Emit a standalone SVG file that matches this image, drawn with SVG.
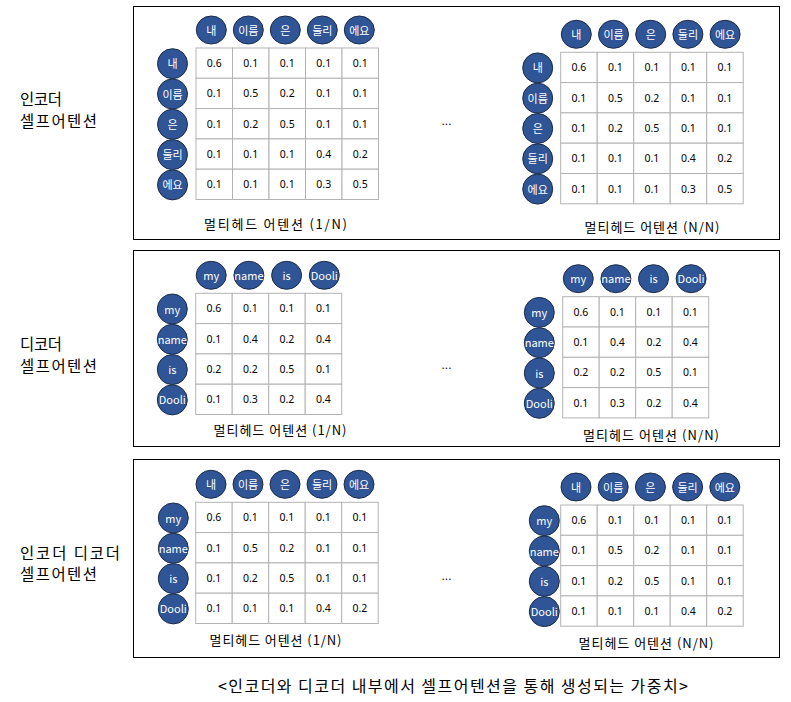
<svg xmlns="http://www.w3.org/2000/svg" width="791" height="702" viewBox="0 0 791 702">
<style>
.bg{fill:#ffffff}
.panel{fill:none;stroke:#000;stroke-width:1}
.tok{fill:#2F5597;stroke:#1c2b48;stroke-width:1}
.tt{fill:#fff;font-family:"Noto Sans CJK KR","Noto Sans",sans-serif;font-size:11px;text-anchor:middle;dominant-baseline:central}
.cell{fill:#fff;stroke:#b3b3b3;stroke-width:1}
.num{fill:#000;font-family:"Noto Sans","Noto Sans CJK KR",sans-serif;font-size:10.5px;text-anchor:middle;dominant-baseline:central}
.lbl{fill:#000;font-family:"Noto Sans CJK KR",sans-serif;font-size:13px;text-anchor:middle;dominant-baseline:central}
.side{fill:#000;font-family:"Noto Sans CJK KR",sans-serif;font-size:15.4px;dominant-baseline:central}
.cap{fill:#000;font-family:"Noto Sans CJK KR",sans-serif;font-size:16px;text-anchor:middle;dominant-baseline:central}
.dots{fill:#000;font-family:"Liberation Sans",sans-serif;font-size:12px;text-anchor:middle}
</style>
<rect class="bg" x="0" y="0" width="791" height="702"/>

<!-- Panel 1 -->
<g id="panel-encoder">
<rect class="panel" x="133.5" y="6.5" width="646" height="233"/>
<text class="side" x="20" y="98" textLength="42" lengthAdjust="spacing">인코더</text>
<text class="side" x="20" y="120" textLength="77" lengthAdjust="spacing">셀프어텐션</text>
<text class="dots" x="446.5" y="125">...</text>
</g>

<g id="enc-matrix-1">
<g id="enc1-cols">
<ellipse class="tok" cx="211.3" cy="30" rx="15" ry="14"/><text class="tt" x="211.3" y="29.5">내</text>
<ellipse class="tok" cx="248.3" cy="30" rx="15" ry="14"/><text class="tt" x="248.3" y="29.5">이름</text>
<ellipse class="tok" cx="285.3" cy="30" rx="15" ry="14"/><text class="tt" x="285.3" y="29.5">은</text>
<ellipse class="tok" cx="322.3" cy="30" rx="15" ry="14"/><text class="tt" x="322.3" y="29.5">둘리</text>
<ellipse class="tok" cx="359.3" cy="30" rx="15" ry="14"/><text class="tt" x="359.3" y="29.5">에요</text>
</g>
<g id="enc1-rows">
<circle class="tok" cx="172.5" cy="63.7" r="15"/><text class="tt" x="172.5" y="63.2">내</text>
<circle class="tok" cx="172.5" cy="94" r="15"/><text class="tt" x="172.5" y="93.5">이름</text>
<circle class="tok" cx="172.5" cy="124.3" r="15"/><text class="tt" x="172.5" y="123.8">은</text>
<circle class="tok" cx="172.5" cy="154.6" r="15"/><text class="tt" x="172.5" y="154.1">둘리</text>
<circle class="tok" cx="172.5" cy="184.9" r="15"/><text class="tt" x="172.5" y="184.4">에요</text>
</g>
<g id="enc1-grid">
<rect class="cell" x="196" y="48" width="36.5" height="30.3"/><rect class="cell" x="232.5" y="48" width="36.5" height="30.3"/><rect class="cell" x="269" y="48" width="36.5" height="30.3"/><rect class="cell" x="305.5" y="48" width="36.5" height="30.3"/><rect class="cell" x="342" y="48" width="36.5" height="30.3"/>
<rect class="cell" x="196" y="78.3" width="36.5" height="30.3"/><rect class="cell" x="232.5" y="78.3" width="36.5" height="30.3"/><rect class="cell" x="269" y="78.3" width="36.5" height="30.3"/><rect class="cell" x="305.5" y="78.3" width="36.5" height="30.3"/><rect class="cell" x="342" y="78.3" width="36.5" height="30.3"/>
<rect class="cell" x="196" y="108.6" width="36.5" height="30.3"/><rect class="cell" x="232.5" y="108.6" width="36.5" height="30.3"/><rect class="cell" x="269" y="108.6" width="36.5" height="30.3"/><rect class="cell" x="305.5" y="108.6" width="36.5" height="30.3"/><rect class="cell" x="342" y="108.6" width="36.5" height="30.3"/>
<rect class="cell" x="196" y="138.9" width="36.5" height="30.3"/><rect class="cell" x="232.5" y="138.9" width="36.5" height="30.3"/><rect class="cell" x="269" y="138.9" width="36.5" height="30.3"/><rect class="cell" x="305.5" y="138.9" width="36.5" height="30.3"/><rect class="cell" x="342" y="138.9" width="36.5" height="30.3"/>
<rect class="cell" x="196" y="169.2" width="36.5" height="30.3"/><rect class="cell" x="232.5" y="169.2" width="36.5" height="30.3"/><rect class="cell" x="269" y="169.2" width="36.5" height="30.3"/><rect class="cell" x="305.5" y="169.2" width="36.5" height="30.3"/><rect class="cell" x="342" y="169.2" width="36.5" height="30.3"/>
</g>
<g id="enc1-vals">
<text class="num" x="214.25" y="63.15">0.6</text><text class="num" x="250.75" y="63.15">0.1</text><text class="num" x="287.25" y="63.15">0.1</text><text class="num" x="323.75" y="63.15">0.1</text><text class="num" x="360.25" y="63.15">0.1</text>
<text class="num" x="214.25" y="93.45">0.1</text><text class="num" x="250.75" y="93.45">0.5</text><text class="num" x="287.25" y="93.45">0.2</text><text class="num" x="323.75" y="93.45">0.1</text><text class="num" x="360.25" y="93.45">0.1</text>
<text class="num" x="214.25" y="123.75">0.1</text><text class="num" x="250.75" y="123.75">0.2</text><text class="num" x="287.25" y="123.75">0.5</text><text class="num" x="323.75" y="123.75">0.1</text><text class="num" x="360.25" y="123.75">0.1</text>
<text class="num" x="214.25" y="154.05">0.1</text><text class="num" x="250.75" y="154.05">0.1</text><text class="num" x="287.25" y="154.05">0.1</text><text class="num" x="323.75" y="154.05">0.4</text><text class="num" x="360.25" y="154.05">0.2</text>
<text class="num" x="214.25" y="184.35">0.1</text><text class="num" x="250.75" y="184.35">0.1</text><text class="num" x="287.25" y="184.35">0.1</text><text class="num" x="323.75" y="184.35">0.3</text><text class="num" x="360.25" y="184.35">0.5</text>
</g>
<text class="lbl" x="275.5" y="223.5" textLength="143" lengthAdjust="spacing">멀티헤드 어텐션 (1/N)</text>
</g>

<g id="enc-matrix-N">
<g id="encN-cols">
<ellipse class="tok" cx="576.3" cy="34.3" rx="15" ry="14"/><text class="tt" x="576.3" y="33.8">내</text>
<ellipse class="tok" cx="613.5" cy="34.3" rx="15" ry="14"/><text class="tt" x="613.5" y="33.8">이름</text>
<ellipse class="tok" cx="650.7" cy="34.3" rx="15" ry="14"/><text class="tt" x="650.7" y="33.8">은</text>
<ellipse class="tok" cx="687.9" cy="34.3" rx="15" ry="14"/><text class="tt" x="687.9" y="33.8">둘리</text>
<ellipse class="tok" cx="725.1" cy="34.3" rx="15" ry="14"/><text class="tt" x="725.1" y="33.8">에요</text>
</g>
<g id="encN-rows">
<circle class="tok" cx="537.7" cy="67.9" r="15"/><text class="tt" x="537.7" y="67.4">내</text>
<circle class="tok" cx="537.7" cy="98.2" r="15"/><text class="tt" x="537.7" y="97.7">이름</text>
<circle class="tok" cx="537.7" cy="128.5" r="15"/><text class="tt" x="537.7" y="128">은</text>
<circle class="tok" cx="537.7" cy="158.8" r="15"/><text class="tt" x="537.7" y="158.3">둘리</text>
<circle class="tok" cx="537.7" cy="189.1" r="15"/><text class="tt" x="537.7" y="188.6">에요</text>
</g>
<g id="encN-grid">
<rect class="cell" x="560.7" y="52.3" width="36.5" height="30.3"/><rect class="cell" x="597.2" y="52.3" width="36.5" height="30.3"/><rect class="cell" x="633.7" y="52.3" width="36.5" height="30.3"/><rect class="cell" x="670.2" y="52.3" width="36.5" height="30.3"/><rect class="cell" x="706.7" y="52.3" width="36.5" height="30.3"/>
<rect class="cell" x="560.7" y="82.6" width="36.5" height="30.3"/><rect class="cell" x="597.2" y="82.6" width="36.5" height="30.3"/><rect class="cell" x="633.7" y="82.6" width="36.5" height="30.3"/><rect class="cell" x="670.2" y="82.6" width="36.5" height="30.3"/><rect class="cell" x="706.7" y="82.6" width="36.5" height="30.3"/>
<rect class="cell" x="560.7" y="112.9" width="36.5" height="30.3"/><rect class="cell" x="597.2" y="112.9" width="36.5" height="30.3"/><rect class="cell" x="633.7" y="112.9" width="36.5" height="30.3"/><rect class="cell" x="670.2" y="112.9" width="36.5" height="30.3"/><rect class="cell" x="706.7" y="112.9" width="36.5" height="30.3"/>
<rect class="cell" x="560.7" y="143.2" width="36.5" height="30.3"/><rect class="cell" x="597.2" y="143.2" width="36.5" height="30.3"/><rect class="cell" x="633.7" y="143.2" width="36.5" height="30.3"/><rect class="cell" x="670.2" y="143.2" width="36.5" height="30.3"/><rect class="cell" x="706.7" y="143.2" width="36.5" height="30.3"/>
<rect class="cell" x="560.7" y="173.5" width="36.5" height="30.3"/><rect class="cell" x="597.2" y="173.5" width="36.5" height="30.3"/><rect class="cell" x="633.7" y="173.5" width="36.5" height="30.3"/><rect class="cell" x="670.2" y="173.5" width="36.5" height="30.3"/><rect class="cell" x="706.7" y="173.5" width="36.5" height="30.3"/>
</g>
<g id="encN-vals">
<text class="num" x="578.95" y="67.45">0.6</text><text class="num" x="615.45" y="67.45">0.1</text><text class="num" x="651.95" y="67.45">0.1</text><text class="num" x="688.45" y="67.45">0.1</text><text class="num" x="724.95" y="67.45">0.1</text>
<text class="num" x="578.95" y="97.75">0.1</text><text class="num" x="615.45" y="97.75">0.5</text><text class="num" x="651.95" y="97.75">0.2</text><text class="num" x="688.45" y="97.75">0.1</text><text class="num" x="724.95" y="97.75">0.1</text>
<text class="num" x="578.95" y="128.05">0.1</text><text class="num" x="615.45" y="128.05">0.2</text><text class="num" x="651.95" y="128.05">0.5</text><text class="num" x="688.45" y="128.05">0.1</text><text class="num" x="724.95" y="128.05">0.1</text>
<text class="num" x="578.95" y="158.35">0.1</text><text class="num" x="615.45" y="158.35">0.1</text><text class="num" x="651.95" y="158.35">0.1</text><text class="num" x="688.45" y="158.35">0.4</text><text class="num" x="724.95" y="158.35">0.2</text>
<text class="num" x="578.95" y="188.65">0.1</text><text class="num" x="615.45" y="188.65">0.1</text><text class="num" x="651.95" y="188.65">0.1</text><text class="num" x="688.45" y="188.65">0.3</text><text class="num" x="724.95" y="188.65">0.5</text>
</g>
<text class="lbl" x="652" y="226.5" textLength="135" lengthAdjust="spacing">멀티헤드 어텐션 (N/N)</text>
</g>

<!-- Panel 2 -->
<g id="panel-decoder">
<rect class="panel" x="133.5" y="250.5" width="646" height="196"/>
<text class="side" x="20" y="343" textLength="42" lengthAdjust="spacing">디코더</text>
<text class="side" x="20" y="365" textLength="77" lengthAdjust="spacing">셀프어텐션</text>
<text class="dots" x="446.5" y="369">...</text>
</g>

<g id="dec-matrix-1">
<g id="dec1-cols">
<ellipse class="tok" cx="211.2" cy="275.3" rx="15" ry="14"/><text class="tt" x="211.2" y="274.8">my</text>
<ellipse class="tok" cx="248.9" cy="275.3" rx="15" ry="14"/><text class="tt" x="248.9" y="274.8">name</text>
<ellipse class="tok" cx="286.6" cy="275.3" rx="15" ry="14"/><text class="tt" x="286.6" y="274.8">is</text>
<ellipse class="tok" cx="324.3" cy="275.3" rx="15" ry="14"/><text class="tt" x="324.3" y="274.8">Dooli</text>
</g>
<g id="dec1-rows">
<circle class="tok" cx="172.3" cy="309" r="15"/><text class="tt" x="172.3" y="308.5">my</text>
<circle class="tok" cx="172.3" cy="339.3" r="15"/><text class="tt" x="172.3" y="338.8">name</text>
<circle class="tok" cx="172.3" cy="369.6" r="15"/><text class="tt" x="172.3" y="369.1">is</text>
<circle class="tok" cx="172.3" cy="399.9" r="15"/><text class="tt" x="172.3" y="399.4">Dooli</text>
</g>
<g id="dec1-grid">
<rect class="cell" x="195.7" y="293.3" width="36.5" height="30.3"/><rect class="cell" x="232.2" y="293.3" width="36.5" height="30.3"/><rect class="cell" x="268.7" y="293.3" width="36.5" height="30.3"/><rect class="cell" x="305.2" y="293.3" width="36.5" height="30.3"/>
<rect class="cell" x="195.7" y="323.6" width="36.5" height="30.3"/><rect class="cell" x="232.2" y="323.6" width="36.5" height="30.3"/><rect class="cell" x="268.7" y="323.6" width="36.5" height="30.3"/><rect class="cell" x="305.2" y="323.6" width="36.5" height="30.3"/>
<rect class="cell" x="195.7" y="353.9" width="36.5" height="30.3"/><rect class="cell" x="232.2" y="353.9" width="36.5" height="30.3"/><rect class="cell" x="268.7" y="353.9" width="36.5" height="30.3"/><rect class="cell" x="305.2" y="353.9" width="36.5" height="30.3"/>
<rect class="cell" x="195.7" y="384.2" width="36.5" height="30.3"/><rect class="cell" x="232.2" y="384.2" width="36.5" height="30.3"/><rect class="cell" x="268.7" y="384.2" width="36.5" height="30.3"/><rect class="cell" x="305.2" y="384.2" width="36.5" height="30.3"/>
</g>
<g id="dec1-vals">
<text class="num" x="213.95" y="308.45">0.6</text><text class="num" x="250.45" y="308.45">0.1</text><text class="num" x="286.95" y="308.45">0.1</text><text class="num" x="323.45" y="308.45">0.1</text>
<text class="num" x="213.95" y="338.75">0.1</text><text class="num" x="250.45" y="338.75">0.4</text><text class="num" x="286.95" y="338.75">0.2</text><text class="num" x="323.45" y="338.75">0.4</text>
<text class="num" x="213.95" y="369.05">0.2</text><text class="num" x="250.45" y="369.05">0.2</text><text class="num" x="286.95" y="369.05">0.5</text><text class="num" x="323.45" y="369.05">0.1</text>
<text class="num" x="213.95" y="399.35">0.1</text><text class="num" x="250.45" y="399.35">0.3</text><text class="num" x="286.95" y="399.35">0.2</text><text class="num" x="323.45" y="399.35">0.4</text>
</g>
<text class="lbl" x="280" y="429.5" textLength="133" lengthAdjust="spacing">멀티헤드 어텐션 (1/N)</text>
</g>

<g id="dec-matrix-N">
<g id="decN-cols">
<ellipse class="tok" cx="578.3" cy="278.7" rx="15" ry="14"/><text class="tt" x="578.3" y="278.2">my</text>
<ellipse class="tok" cx="615.9" cy="278.7" rx="15" ry="14"/><text class="tt" x="615.9" y="278.2">name</text>
<ellipse class="tok" cx="653.5" cy="278.7" rx="15" ry="14"/><text class="tt" x="653.5" y="278.2">is</text>
<ellipse class="tok" cx="691.1" cy="278.7" rx="15" ry="14"/><text class="tt" x="691.1" y="278.2">Dooli</text>
</g>
<g id="decN-rows">
<circle class="tok" cx="539.3" cy="312.4" r="15"/><text class="tt" x="539.3" y="311.9">my</text>
<circle class="tok" cx="539.3" cy="342.7" r="15"/><text class="tt" x="539.3" y="342.2">name</text>
<circle class="tok" cx="539.3" cy="373" r="15"/><text class="tt" x="539.3" y="372.5">is</text>
<circle class="tok" cx="539.3" cy="403.3" r="15"/><text class="tt" x="539.3" y="402.8">Dooli</text>
</g>
<g id="decN-grid">
<rect class="cell" x="562.7" y="296.7" width="36.5" height="30.3"/><rect class="cell" x="599.2" y="296.7" width="36.5" height="30.3"/><rect class="cell" x="635.7" y="296.7" width="36.5" height="30.3"/><rect class="cell" x="672.2" y="296.7" width="36.5" height="30.3"/>
<rect class="cell" x="562.7" y="327" width="36.5" height="30.3"/><rect class="cell" x="599.2" y="327" width="36.5" height="30.3"/><rect class="cell" x="635.7" y="327" width="36.5" height="30.3"/><rect class="cell" x="672.2" y="327" width="36.5" height="30.3"/>
<rect class="cell" x="562.7" y="357.3" width="36.5" height="30.3"/><rect class="cell" x="599.2" y="357.3" width="36.5" height="30.3"/><rect class="cell" x="635.7" y="357.3" width="36.5" height="30.3"/><rect class="cell" x="672.2" y="357.3" width="36.5" height="30.3"/>
<rect class="cell" x="562.7" y="387.6" width="36.5" height="30.3"/><rect class="cell" x="599.2" y="387.6" width="36.5" height="30.3"/><rect class="cell" x="635.7" y="387.6" width="36.5" height="30.3"/><rect class="cell" x="672.2" y="387.6" width="36.5" height="30.3"/>
</g>
<g id="decN-vals">
<text class="num" x="580.95" y="311.85">0.6</text><text class="num" x="617.45" y="311.85">0.1</text><text class="num" x="653.95" y="311.85">0.1</text><text class="num" x="690.45" y="311.85">0.1</text>
<text class="num" x="580.95" y="342.15">0.1</text><text class="num" x="617.45" y="342.15">0.4</text><text class="num" x="653.95" y="342.15">0.2</text><text class="num" x="690.45" y="342.15">0.4</text>
<text class="num" x="580.95" y="372.45">0.2</text><text class="num" x="617.45" y="372.45">0.2</text><text class="num" x="653.95" y="372.45">0.5</text><text class="num" x="690.45" y="372.45">0.1</text>
<text class="num" x="580.95" y="402.75">0.1</text><text class="num" x="617.45" y="402.75">0.3</text><text class="num" x="653.95" y="402.75">0.2</text><text class="num" x="690.45" y="402.75">0.4</text>
</g>
<text class="lbl" x="651" y="434.5" textLength="136" lengthAdjust="spacing">멀티헤드 어텐션 (N/N)</text>
</g>

<!-- Panel 3 -->
<g id="panel-encdec">
<rect class="panel" x="133.5" y="459.5" width="646" height="198"/>
<text class="side" x="20" y="552" textLength="100" lengthAdjust="spacing">인코더 디코더</text>
<text class="side" x="20" y="573" textLength="77" lengthAdjust="spacing">셀프어텐션</text>
<text class="dots" x="446.5" y="580">...</text>
</g>

<g id="ed-matrix-1">
<g id="ed1-cols">
<ellipse class="tok" cx="211" cy="484.3" rx="15" ry="14"/><text class="tt" x="211" y="483.8">내</text>
<ellipse class="tok" cx="248" cy="484.3" rx="15" ry="14"/><text class="tt" x="248" y="483.8">이름</text>
<ellipse class="tok" cx="285" cy="484.3" rx="15" ry="14"/><text class="tt" x="285" y="483.8">은</text>
<ellipse class="tok" cx="322" cy="484.3" rx="15" ry="14"/><text class="tt" x="322" y="483.8">둘리</text>
<ellipse class="tok" cx="359" cy="484.3" rx="15" ry="14"/><text class="tt" x="359" y="483.8">에요</text>
</g>
<g id="ed1-rows">
<circle class="tok" cx="173.3" cy="518" r="15"/><text class="tt" x="173.3" y="517.5">my</text>
<circle class="tok" cx="173.3" cy="548.3" r="15"/><text class="tt" x="173.3" y="547.8">name</text>
<circle class="tok" cx="173.3" cy="578.6" r="15"/><text class="tt" x="173.3" y="578.1">is</text>
<circle class="tok" cx="173.3" cy="608.9" r="15"/><text class="tt" x="173.3" y="608.4">Dooli</text>
</g>
<g id="ed1-grid">
<rect class="cell" x="195.7" y="502.3" width="36.5" height="30.3"/><rect class="cell" x="232.2" y="502.3" width="36.5" height="30.3"/><rect class="cell" x="268.7" y="502.3" width="36.5" height="30.3"/><rect class="cell" x="305.2" y="502.3" width="36.5" height="30.3"/><rect class="cell" x="341.7" y="502.3" width="36.5" height="30.3"/>
<rect class="cell" x="195.7" y="532.6" width="36.5" height="30.3"/><rect class="cell" x="232.2" y="532.6" width="36.5" height="30.3"/><rect class="cell" x="268.7" y="532.6" width="36.5" height="30.3"/><rect class="cell" x="305.2" y="532.6" width="36.5" height="30.3"/><rect class="cell" x="341.7" y="532.6" width="36.5" height="30.3"/>
<rect class="cell" x="195.7" y="562.9" width="36.5" height="30.3"/><rect class="cell" x="232.2" y="562.9" width="36.5" height="30.3"/><rect class="cell" x="268.7" y="562.9" width="36.5" height="30.3"/><rect class="cell" x="305.2" y="562.9" width="36.5" height="30.3"/><rect class="cell" x="341.7" y="562.9" width="36.5" height="30.3"/>
<rect class="cell" x="195.7" y="593.2" width="36.5" height="30.3"/><rect class="cell" x="232.2" y="593.2" width="36.5" height="30.3"/><rect class="cell" x="268.7" y="593.2" width="36.5" height="30.3"/><rect class="cell" x="305.2" y="593.2" width="36.5" height="30.3"/><rect class="cell" x="341.7" y="593.2" width="36.5" height="30.3"/>
</g>
<g id="ed1-vals">
<text class="num" x="213.95" y="517.45">0.6</text><text class="num" x="250.45" y="517.45">0.1</text><text class="num" x="286.95" y="517.45">0.1</text><text class="num" x="323.45" y="517.45">0.1</text><text class="num" x="359.95" y="517.45">0.1</text>
<text class="num" x="213.95" y="547.75">0.1</text><text class="num" x="250.45" y="547.75">0.5</text><text class="num" x="286.95" y="547.75">0.2</text><text class="num" x="323.45" y="547.75">0.1</text><text class="num" x="359.95" y="547.75">0.1</text>
<text class="num" x="213.95" y="578.05">0.1</text><text class="num" x="250.45" y="578.05">0.2</text><text class="num" x="286.95" y="578.05">0.5</text><text class="num" x="323.45" y="578.05">0.1</text><text class="num" x="359.95" y="578.05">0.1</text>
<text class="num" x="213.95" y="608.35">0.1</text><text class="num" x="250.45" y="608.35">0.1</text><text class="num" x="286.95" y="608.35">0.1</text><text class="num" x="323.45" y="608.35">0.4</text><text class="num" x="359.95" y="608.35">0.2</text>
</g>
<text class="lbl" x="275.5" y="639.5" textLength="132" lengthAdjust="spacing">멀티헤드 어텐션 (1/N)</text>
</g>

<g id="ed-matrix-N">
<g id="edN-cols">
<ellipse class="tok" cx="576" cy="487" rx="15" ry="14"/><text class="tt" x="576" y="486.5">내</text>
<ellipse class="tok" cx="613.2" cy="487" rx="15" ry="14"/><text class="tt" x="613.2" y="486.5">이름</text>
<ellipse class="tok" cx="650.4" cy="487" rx="15" ry="14"/><text class="tt" x="650.4" y="486.5">은</text>
<ellipse class="tok" cx="687.6" cy="487" rx="15" ry="14"/><text class="tt" x="687.6" y="486.5">둘리</text>
<ellipse class="tok" cx="724.8" cy="487" rx="15" ry="14"/><text class="tt" x="724.8" y="486.5">에요</text>
</g>
<g id="edN-rows">
<circle class="tok" cx="544.3" cy="520.7" r="15"/><text class="tt" x="544.3" y="520.2">my</text>
<circle class="tok" cx="544.3" cy="551" r="15"/><text class="tt" x="544.3" y="550.5">name</text>
<circle class="tok" cx="544.3" cy="581.3" r="15"/><text class="tt" x="544.3" y="580.8">is</text>
<circle class="tok" cx="544.3" cy="611.6" r="15"/><text class="tt" x="544.3" y="611.1">Dooli</text>
</g>
<g id="edN-grid">
<rect class="cell" x="560.7" y="505" width="36.5" height="30.3"/><rect class="cell" x="597.2" y="505" width="36.5" height="30.3"/><rect class="cell" x="633.7" y="505" width="36.5" height="30.3"/><rect class="cell" x="670.2" y="505" width="36.5" height="30.3"/><rect class="cell" x="706.7" y="505" width="36.5" height="30.3"/>
<rect class="cell" x="560.7" y="535.3" width="36.5" height="30.3"/><rect class="cell" x="597.2" y="535.3" width="36.5" height="30.3"/><rect class="cell" x="633.7" y="535.3" width="36.5" height="30.3"/><rect class="cell" x="670.2" y="535.3" width="36.5" height="30.3"/><rect class="cell" x="706.7" y="535.3" width="36.5" height="30.3"/>
<rect class="cell" x="560.7" y="565.6" width="36.5" height="30.3"/><rect class="cell" x="597.2" y="565.6" width="36.5" height="30.3"/><rect class="cell" x="633.7" y="565.6" width="36.5" height="30.3"/><rect class="cell" x="670.2" y="565.6" width="36.5" height="30.3"/><rect class="cell" x="706.7" y="565.6" width="36.5" height="30.3"/>
<rect class="cell" x="560.7" y="595.9" width="36.5" height="30.3"/><rect class="cell" x="597.2" y="595.9" width="36.5" height="30.3"/><rect class="cell" x="633.7" y="595.9" width="36.5" height="30.3"/><rect class="cell" x="670.2" y="595.9" width="36.5" height="30.3"/><rect class="cell" x="706.7" y="595.9" width="36.5" height="30.3"/>
</g>
<g id="edN-vals">
<text class="num" x="578.95" y="520.15">0.6</text><text class="num" x="615.45" y="520.15">0.1</text><text class="num" x="651.95" y="520.15">0.1</text><text class="num" x="688.45" y="520.15">0.1</text><text class="num" x="724.95" y="520.15">0.1</text>
<text class="num" x="578.95" y="550.45">0.1</text><text class="num" x="615.45" y="550.45">0.5</text><text class="num" x="651.95" y="550.45">0.2</text><text class="num" x="688.45" y="550.45">0.1</text><text class="num" x="724.95" y="550.45">0.1</text>
<text class="num" x="578.95" y="580.75">0.1</text><text class="num" x="615.45" y="580.75">0.2</text><text class="num" x="651.95" y="580.75">0.5</text><text class="num" x="688.45" y="580.75">0.1</text><text class="num" x="724.95" y="580.75">0.1</text>
<text class="num" x="578.95" y="611.05">0.1</text><text class="num" x="615.45" y="611.05">0.1</text><text class="num" x="651.95" y="611.05">0.1</text><text class="num" x="688.45" y="611.05">0.4</text><text class="num" x="724.95" y="611.05">0.2</text>
</g>
<text class="lbl" x="646" y="642.5" textLength="135" lengthAdjust="spacing">멀티헤드 어텐션 (N/N)</text>
</g>

<text class="cap" x="453" y="685" textLength="470" lengthAdjust="spacing">&lt;인코더와 디코더 내부에서 셀프어텐션을 통해 생성되는 가중치&gt;</text>
</svg>
